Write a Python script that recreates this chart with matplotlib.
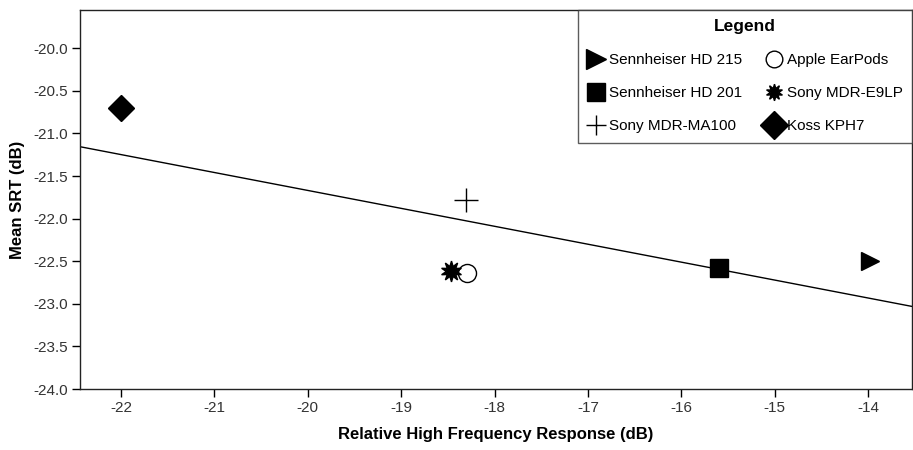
import numpy as np
import matplotlib
matplotlib.use("Agg")
import matplotlib.pyplot as plt
from matplotlib.lines import Line2D

plt.rcParams["font.family"] = ["Liberation Sans", "DejaVu Sans"]

# data
names = ["Sennheiser HD 215", "Sennheiser HD 201", "Sony MDR-MA100",
         "Apple EarPods", "Sony MDR-E9LP", "Koss KPH7"]
hf_resp = [-13.98, -15.60, -18.31, -18.30, -18.47, -22.00]
srt = [-22.50, -22.58, -21.78, -22.64, -22.62, -20.70]
markers = [">", "s", "+", "o", (10, 1, 0), "D"]
sizes = [13, 13, 17, 13, 15, 13]
leg_sizes = [14, 13, 14, 12, 12, 14]
fills = ["black", "black", "none", "white", "black", "black"]

x_ticks = [-22, -21, -20, -19, -18, -17, -16, -15, -14]
y_ticks = [-20.0, -20.5, -21.0, -21.5, -22.0, -22.5, -23.0, -23.5, -24.0]

fig = plt.figure(figsize=(9.13, 4.5), dpi=100)
ax = fig.add_axes([80 / 913, 1 - 389 / 450, 832 / 913, 379 / 450])

# regression line across the plot
slope, icpt = np.polyfit(hf_resp, srt, 1)
xl = np.array([-22.44, -13.53])
ax.plot(xl, slope * xl + icpt, color="black", linewidth=1.0, zorder=1)

handles = []
for n, x, y, m, s, ls, f in zip(names, hf_resp, srt, markers, sizes, leg_sizes, fills):
    ax.plot(x, y, linestyle="none", marker=m, markersize=s, markerfacecolor=f,
            markeredgecolor="black", markeredgewidth=1.0, zorder=3)
    handles.append(Line2D([], [], linestyle="none", marker=m, markersize=ls,
                          markerfacecolor=f, markeredgecolor="black",
                          markeredgewidth=1.0, label=n))

ax.set_xlim(-22.44, -13.53)
ax.set_ylim(-24.0, -19.55)
ax.set_xticks(x_ticks)
ax.set_yticks(y_ticks)
ax.set_xticklabels([str(t) for t in x_ticks])
ax.set_yticklabels([f"{t:.1f}" for t in y_ticks])
ax.tick_params(direction="out", length=6, width=1, labelsize=11,
               labelcolor="#333333", pad=3)
for sp in ax.spines.values():
    sp.set_linewidth(1.0)
    sp.set_color("#222222")

ax.set_xlabel("Relative High Frequency Response (dB)", fontsize=12,
              fontweight="bold", labelpad=8)
ax.set_ylabel("Mean SRT (dB)", fontsize=12, fontweight="bold", labelpad=6)

x0 = (578 - 80) / 832
leg = ax.legend(handles=handles, ncol=2, loc="upper right", mode="expand",
                bbox_to_anchor=(x0, 0, 1 - x0, 1), borderaxespad=0,
                title="Legend", title_fontproperties={"weight": "bold", "size": 12.5},
                fontsize=11, frameon=True, fancybox=False, edgecolor="#333333",
                handletextpad=0.3, columnspacing=1.2, handlelength=1.1,
                labelspacing=1.25, borderpad=0.6)
leg.get_frame().set_linewidth(1.0)

fig.savefig("out.png", dpi=100, facecolor="white")
